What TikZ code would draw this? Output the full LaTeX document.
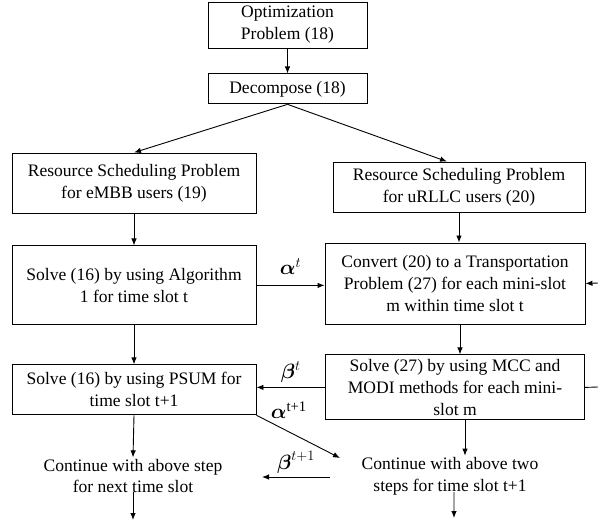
\documentclass[tikz,border=0pt]{standalone}
\usepackage{amsmath}
\usepackage{amssymb}
\usepackage{fontspec}
\setmainfont{Liberation Serif}
\usetikzlibrary{positioning,arrows.meta}
\tikzstyle{arrow} = [-{Latex[length=7bp,width=5.5bp]}]
\tikzstyle{tRect} = [rectangle, draw=black, align=center, text centered, inner sep=1bp]
\tikzstyle{tText} = [align=center, text centered, inner sep=1bp]
\tikzstyle{tLabel} = [inner sep=0pt, font=\fontsize{21}{22}\selectfont]

\begin{document}
\begin{tikzpicture}[x=1bp, y=-1bp, line width=0.9bp, font=\fontsize{17.6}{22}\selectfont]
        \useasboundingbox (0,0) rectangle (598,525);
        % top of the chart
        \node[tRect, minimum width=159bp, minimum height=46bp] (Opt) at (287.5,25) {Optimization\\Problem (18)};
        \node[tRect, minimum width=159bp, minimum height=30bp] (Decomp) [below =25bp of Opt] {Decompose (18)};
        % eMBB column
        \node[tRect, minimum width=244bp, minimum height=60bp] (Embb) at (134,183) {Resource Scheduling Problem\\for eMBB users (19)};
        \node[tRect, minimum width=244bp, minimum height=79bp] (Algo) [below =32bp of Embb] {Solve (16) by using Algorithm\\1 for time slot t};
        \node[tRect, minimum width=244bp, minimum height=50bp] (Psum) [below =39bp of Algo] {Solve (16) by using PSUM for\\time slot t+1};
        \node[tText] (ContA) at (133,476) {Continue with above step\\for next time slot};
        % uRLLC column
        \node[tRect, minimum width=252bp, minimum height=50bp] (Urllc) at (459,187) {Resource Scheduling Problem\\for uRLLC users (20)};
        \node[tRect, minimum width=260bp, minimum height=81bp] (Conv) at (455,283.5) {Convert (20) to a Transportation\\Problem (27) for each mini-slot\\m within time slot t};
        \node[tRect, minimum width=259bp, minimum height=65bp] (Modi) [below =30bp of Conv] {Solve (27) by using MCC and\\MODI methods for each mini-\\slot m};
        \node[tText] (ContB) at (450,476) {Continue with above two\\steps for time slot t+1};
        % free ends
        \coordinate (AlphaEnd) at (340,458);
        \coordinate (BetaStart) at (330,477);
        \coordinate (BetaEnd) at (262,477);
        \coordinate (OutA) at (133,520);
        \coordinate (OutB) at (454,518);
        \coordinate (EdgeLow) at (598,387);
        \coordinate (EdgeHigh) at (598,283);

        \draw[arrow] (Opt) -- (Decomp);
        \draw[arrow] (Embb) -- (Algo);
        \draw[arrow] (Algo) -- (Psum);
        \draw[arrow] (Decomp.south) -- (Embb.north);
        \draw[arrow] (Decomp.south) -- ([xshift=-12bp]Urllc.north);
        \draw[arrow] (Urllc.south) -- (Urllc.south |- Conv.north);
        \draw[arrow] ([xshift=5bp]Conv.south) -- ([xshift=5bp]Conv.south |- Modi.north);
        \draw[arrow] (Algo.east) -- (Algo.east -| Conv.west) node[tLabel, midway, above=10bp] {$\boldsymbol{\alpha}^{t}$};
        \draw[arrow] (Modi.west) -- (Modi.west -| Psum.east) node[tLabel, midway, above=4bp] {$\boldsymbol{\beta}^{t}$};
        \draw[arrow] (Psum.south east) -- (AlphaEnd) node[tLabel, pos=0.12, above right=1bp and 4bp] {$\boldsymbol{\alpha}^{\text{t+1}}$};
        \draw[arrow] (BetaStart) -- (BetaEnd) node[tLabel, midway, above=3bp] {$\boldsymbol{\beta}^{t+1}$};
        \draw[arrow] (Psum.south) -- (ContA.north);
        \draw[arrow] ([yshift=-16bp]ContA.center) -- (OutA);
        \draw[arrow] ([xshift=10bp]Modi.south) -- ([xshift=10bp]Modi.south |- ContB.north);
        \draw[arrow] ([xshift=4bp,yshift=-16bp]ContB.center) -- (OutB);
        \draw (Modi.east) -- (EdgeLow);
        \draw[arrow] (EdgeHigh) -- (Conv.east);
    \end{tikzpicture}
\end{document}
